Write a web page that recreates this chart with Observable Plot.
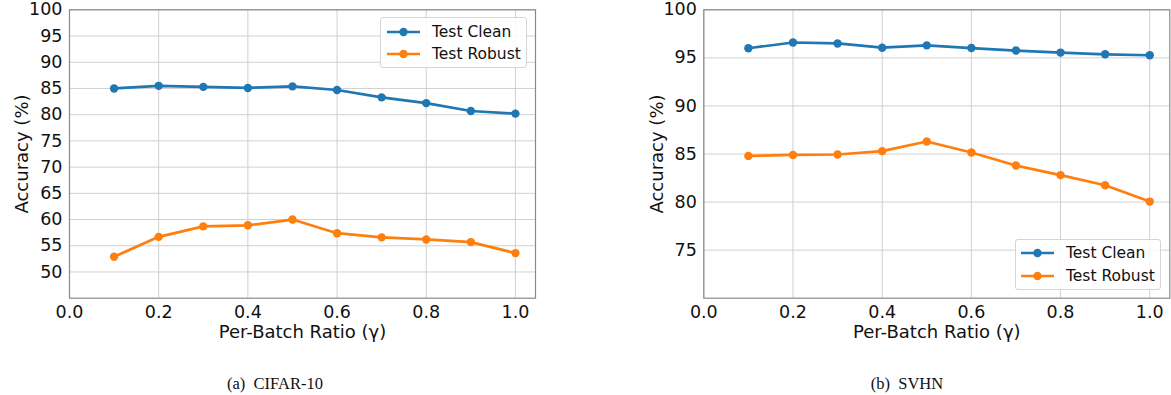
<!DOCTYPE html>
<html>
<head>
<meta charset="utf-8">
<script src="https://cdn.jsdelivr.net/npm/d3@7"></script>
<script src="https://cdn.jsdelivr.net/npm/@observablehq/plot@0.6"></script>
<style>
  html, body { margin: 0; padding: 0; background: #fff; }
  #wrap { position: relative; width: 1171px; height: 395px; overflow: hidden; font-family: "DejaVu Sans", sans-serif; }
  .panel { position: absolute; top: 0; }
  .legend { position: absolute; background: rgba(255,255,255,0.85); border: 1px solid #d5d5d5; border-radius: 3px; box-sizing: border-box; font-size: 15.5px; color: #111; }
  .legend .row { position: absolute; left: 0; height: 20px; display: flex; align-items: center; }
  .legend .row span { white-space: nowrap; }
  .caption { position: absolute; font-family: "Liberation Serif", "Times New Roman", serif; font-size: 16.5px; color: #111; white-space: pre; transform: translate(-50%, -50%); }
</style>
</head>
<body>
<div id="wrap"></div>
<script>
// ---- data ----
const ratios = [0.1, 0.2, 0.3, 0.4, 0.5, 0.6, 0.7, 0.8, 0.9, 1.0];
const cifarClean  = [85.0, 85.5, 85.3, 85.1, 85.4, 84.7, 83.3, 82.2, 80.7, 80.2];
const cifarRobust = [52.9, 56.7, 58.7, 58.9, 60.0, 57.4, 56.6, 56.2, 55.7, 53.6];
const svhnClean   = [96.0, 96.6, 96.5, 96.06, 96.3, 96.02, 95.76, 95.55, 95.37, 95.27];
const svhnRobust  = [84.8, 84.9, 84.95, 85.3, 86.3, 85.15, 83.8, 82.8, 81.75, 80.05];
const seriesNames = ["Test Clean", "Test Robust"];
const seriesColors = ["#1f77b4", "#ff7f0e"];
const xTicks = [0, 0.2, 0.4, 0.6, 0.8, 1.0];
const cifarYTicks = [50, 55, 60, 65, 70, 75, 80, 85, 90, 95, 100];
const svhnYTicks = [75, 80, 85, 90, 95, 100];
const xLabel = "Per-Batch Ratio (γ)";
const yLabel = "Accuracy (%)";
const captions = ["(a)  CIFAR-10", "(b)  SVHN"];

function rows(clean, robust) {
  const out = [];
  ratios.forEach((r, i) => {
    out.push({x: r, y: clean[i], s: seriesNames[0]});
    out.push({x: r, y: robust[i], s: seriesNames[1]});
  });
  return out;
}

function panel({data, yDomain, yTicks, width, marginLeft, marginRight}) {
  return Plot.plot({
    width, height: 360,
    marginLeft, marginRight, marginTop: 9.3, marginBottom: 62.3,
    style: {fontFamily: "DejaVu Sans, sans-serif", fontSize: "17.5px", color: "#111", background: "transparent"},
    x: {domain: [0, 1.045]},
    y: {domain: yDomain},
    color: {domain: seriesNames, range: seriesColors},
    marks: [
      Plot.gridY(yTicks, {stroke: "#d0d0d0", strokeOpacity: 1, strokeWidth: 1}),
      Plot.gridX(xTicks, {stroke: "#d0d0d0", strokeOpacity: 1, strokeWidth: 1}),
      Plot.frame({stroke: "#8a8a8a", strokeWidth: 1.2}),
      Plot.axisX(xTicks, {tickSize: 0, tickPadding: 7, tickFormat: d => d.toFixed(1), fontSize: "17.5px", label: null}),
      Plot.axisY(yTicks, {tickSize: 0, tickPadding: 7, fontSize: "17.5px", label: null}),
      Plot.text([xLabel], {frameAnchor: "bottom", dy: 34, fontSize: "18px", fill: "#111", textAnchor: "middle", lineAnchor: "middle"}),
      Plot.text([yLabel], {frameAnchor: "left", rotate: -90, dx: -47, fontSize: "18px", fill: "#111", textAnchor: "middle", lineAnchor: "middle"}),
      Plot.line(data, {x: "x", y: "y", stroke: "s", z: "s", strokeWidth: 2.7}),
      Plot.dot(data, {x: "x", y: "y", fill: "s", r: 4.2})
    ]
  });
}

const wrap = document.getElementById("wrap");

function place(el, left) {
  el.classList.add("panel");
  el.style.left = left + "px";
  wrap.appendChild(el);
}

place(panel({data: rows(cifarClean, cifarRobust), yDomain: [45, 100], yTicks: cifarYTicks,
  width: 560, marginLeft: 69, marginRight: 25}), 0);
place(panel({data: rows(svhnClean, svhnRobust), yDomain: [70, 100], yTicks: svhnYTicks,
  width: 537, marginLeft: 69.3, marginRight: 1.7}), 634);

function legend(left, top, w, h, swX, txtX, rowYs) {
  const d = document.createElement("div");
  d.className = "legend";
  Object.assign(d.style, {left: left + "px", top: top + "px", width: w + "px", height: h + "px"});
  seriesNames.forEach((name, i) => {
    const r = document.createElement("div");
    r.className = "row";
    r.style.top = (rowYs[i] - top - 10) + "px";
    const svgNS = "http://www.w3.org/2000/svg";
    const s = document.createElementNS(svgNS, "svg");
    s.setAttribute("width", txtX - left);
    s.setAttribute("height", 20);
    s.style.display = "block";
    const ln = document.createElementNS(svgNS, "line");
    ln.setAttribute("x1", swX - left); ln.setAttribute("x2", swX - left + 33);
    ln.setAttribute("y1", 10); ln.setAttribute("y2", 10);
    ln.setAttribute("stroke", seriesColors[i]); ln.setAttribute("stroke-width", 2.7);
    const c = document.createElementNS(svgNS, "circle");
    c.setAttribute("cx", swX - left + 16.5); c.setAttribute("cy", 10); c.setAttribute("r", 4.2);
    c.setAttribute("fill", seriesColors[i]);
    s.appendChild(ln); s.appendChild(c);
    const t = document.createElement("span");
    t.textContent = name;
    r.appendChild(s); r.appendChild(t);
    d.appendChild(r);
  });
  wrap.appendChild(d);
}
legend(380, 17, 147, 51, 386, 431, [31, 53]);
legend(1015, 239, 146, 51, 1020, 1065, [252, 275]);

function caption(text, cx, cy) {
  const c = document.createElement("div");
  c.className = "caption";
  c.textContent = text;
  c.style.left = cx + "px";
  c.style.top = cy + "px";
  wrap.appendChild(c);
}
caption(captions[0], 275, 384);
caption(captions[1], 907, 384);
</script>
</body>
</html>
